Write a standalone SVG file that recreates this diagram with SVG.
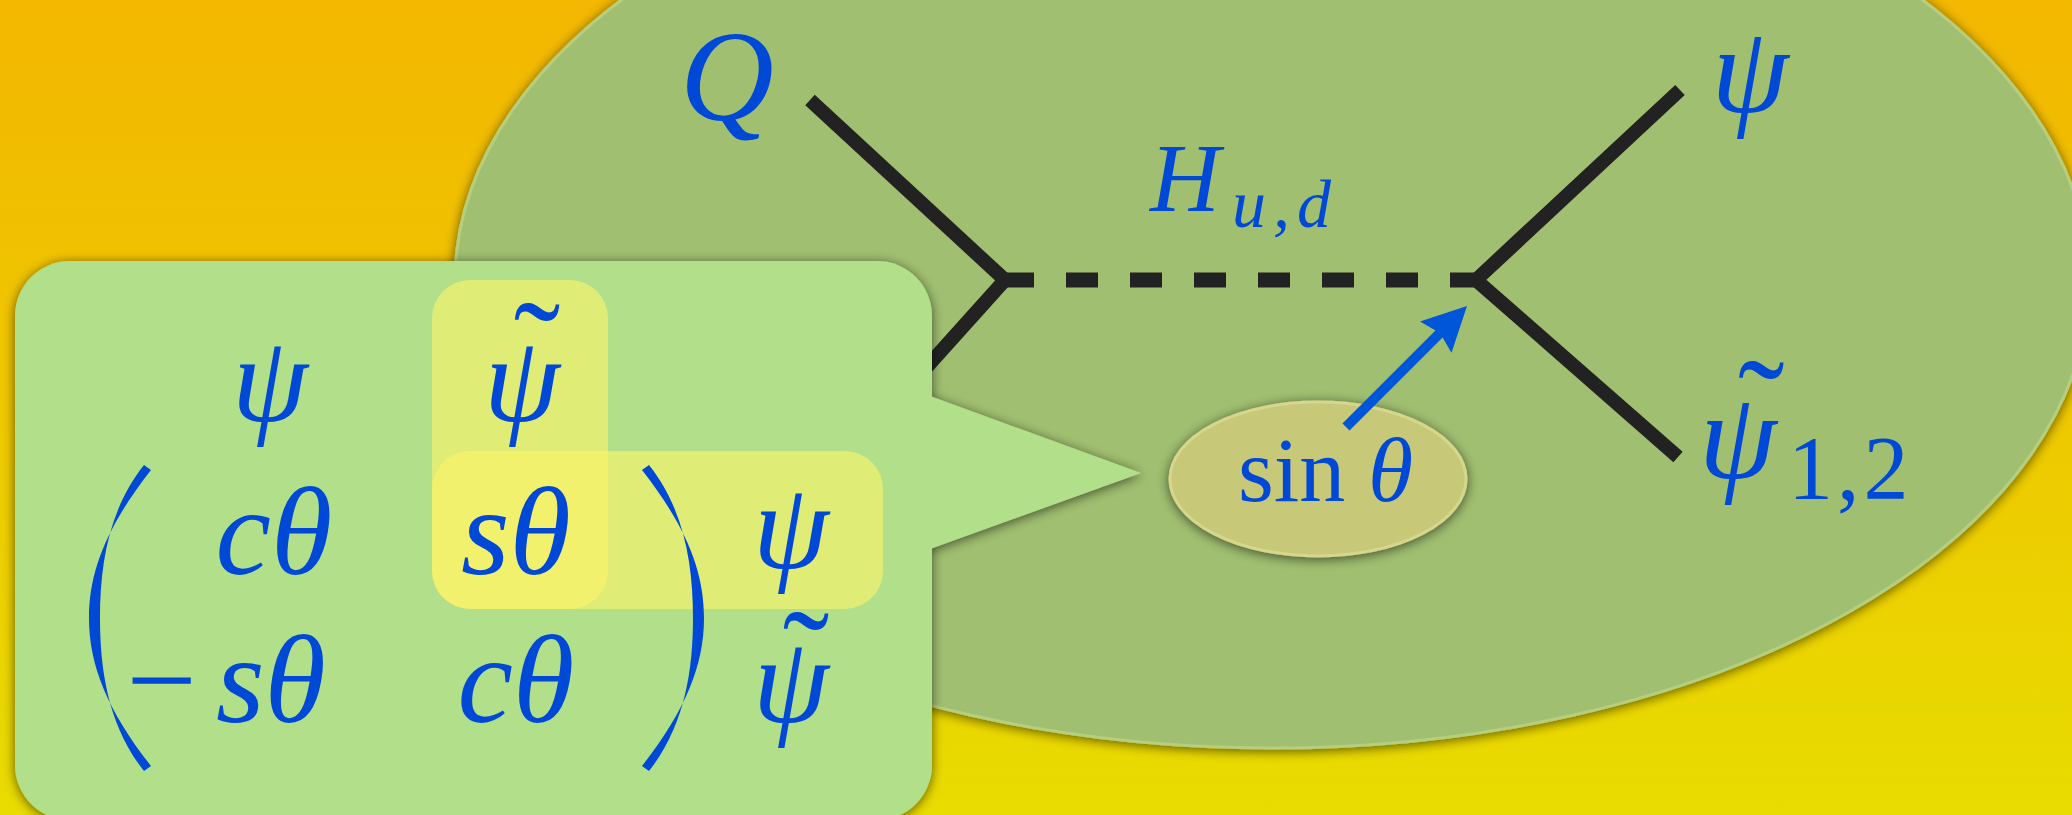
<svg xmlns="http://www.w3.org/2000/svg" width="2072" height="815" viewBox="0 0 2072 815">
<style>
.m{font-family:"Liberation Serif","DejaVu Serif",serif;font-style:italic;fill:#0049d6}
.rm{font-style:normal}
.t{font-style:normal;font-size:140px}
.ln{stroke:#222;stroke-width:14;fill:none;stroke-linejoin:miter;stroke-miterlimit:4}
.hl{fill:#fff467;fill-opacity:0.58}
</style>
<defs>
<linearGradient id="bg" x1="0" y1="0" x2="0" y2="1">
<stop offset="0" stop-color="#f3b700"/>
<stop offset="0.5" stop-color="#eec800"/>
<stop offset="1" stop-color="#e8dc00"/>
</linearGradient>
<filter id="sh" x="-10%" y="-10%" width="120%" height="120%">
<feGaussianBlur in="SourceAlpha" stdDeviation="6"/>
<feOffset dy="2"/>
<feComponentTransfer><feFuncA type="linear" slope="0.6"/></feComponentTransfer>
<feMerge><feMergeNode/><feMergeNode in="SourceGraphic"/></feMerge>
</filter>
<path id="paren" d="M151,470 C108,525 89,570 89,618 C89,666 108,711 151,766 L144,771 C109,727 100,672 100,618 C100,564 109,509 144,465 Z" fill="#0049d6"/>
</defs>
<rect width="2072" height="815" fill="url(#bg)"/>
<g id="region">
<ellipse cx="1272" cy="282" rx="817" ry="466" fill="#a0bf70" stroke="#b4cf80" stroke-width="3" filter="url(#sh)"/>
</g>
<g id="node-sin">
<ellipse cx="1318" cy="479" rx="148" ry="77" fill="#c8c879" stroke="#d6d68c" stroke-width="3" filter="url(#sh)"/>
<text class="m rm" x="1238" y="501" font-size="92">sin</text>
<text class="m" x="1368" y="501" font-size="92">θ</text>
</g>
<g id="connectors">
<polyline class="ln" points="810,100 1005,280 880,419"/>
<polyline class="ln" points="1680,90 1476,280 1678,457"/>
<line x1="1002" y1="280" x2="1482" y2="280" stroke="#222" stroke-width="15" stroke-dasharray="32 32"/>
<line x1="1346" y1="427" x2="1440" y2="333" stroke="#0056d8" stroke-width="10"/>
<polygon points="1467,306 1420,321.5 1440,333 1451.5,352.7" fill="#0056d8"/>
</g>
<g id="node-Q"><text class="m" x="727" y="120" font-size="130" text-anchor="middle">Q</text></g>
<g id="node-H"><text class="m" x="1150" y="211" font-size="97">H<tspan x="1232" y="227" font-size="68" letter-spacing="7">u,d</tspan></text></g>
<g id="node-psi"><text class="m" x="1750" y="112" font-size="124" text-anchor="middle">ψ</text></g>
<g id="node-psitilde"><text class="m" x="1699" y="478" font-size="125">ψ<tspan class="t" x="1738" y="455">˜</tspan><tspan class="rm" x="1788" y="499" font-size="90" letter-spacing="4">1,2</tspan></text></g>
<g id="callout" filter="url(#sh)">
<rect x="15" y="261" width="917" height="559" rx="55" ry="55" fill="#b2df8a"/>
<polygon points="930,396 1141,473 930,549" fill="#b2df8a"/>
</g>
<g id="matrix">
<rect class="hl" x="432" y="280" width="176" height="329" rx="38" ry="38"/>
<rect class="hl" x="432" y="451" width="451" height="158" rx="38" ry="38"/>
<use href="#paren"/>
<use href="#paren" transform="translate(793,0) scale(-1,1)"/>
<text class="m" x="270" y="421" font-size="122" text-anchor="middle">ψ</text>
<text class="m" x="522" y="421" font-size="122" text-anchor="middle">ψ<tspan class="t" x="537" y="397">˜</tspan></text>
<text class="m" x="274" y="574" font-size="125" text-anchor="middle">cθ</text>
<text class="m" x="516" y="574" font-size="125" text-anchor="middle">sθ</text>
<text class="m" x="791" y="568" font-size="122" text-anchor="middle">ψ</text>
<text class="m" x="326" y="722" font-size="125" text-anchor="end">−<tspan dx="13">sθ</tspan></text>
<text class="m" x="516" y="722" font-size="125" text-anchor="middle">cθ</text>
<text class="m" x="791" y="722" font-size="122" text-anchor="middle">ψ<tspan class="t" x="806" y="706">˜</tspan></text>
</g>
</svg>
